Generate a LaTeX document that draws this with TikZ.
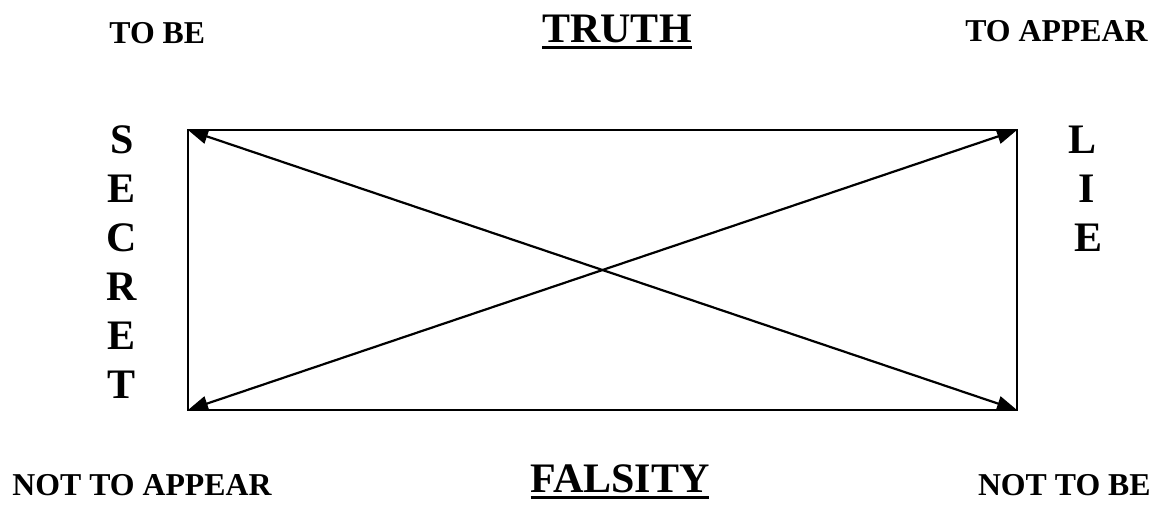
\documentclass[tikz,border=0pt]{standalone}
\usepackage{fontspec}
\setmainfont{Liberation Serif}
\usetikzlibrary{arrows.meta}
\newcommand{\thickul}[1]{\leavevmode\vtop{\hbox{#1}\kern2pt\hrule height 1.5pt}}

\begin{document}
\begin{tikzpicture}[
      x=0.5pt, y=-0.5pt, % one unit per pixel of the sheet
      >={Triangle[length=10pt,width=7.5pt]},
      frame/.style={line width=1.1pt, black},
      diag/.style={<->, line width=1.1pt, black},
      corner/.style={font=\bfseries\fontsize{15.9}{18}\selectfont, inner sep=0pt},
      title/.style={font=\bfseries\fontsize{21}{24}\selectfont, inner sep=0pt, anchor=base},
      letter/.style={font=\bfseries\fontsize{21}{24}\selectfont, inner sep=0pt, anchor=base},
    ]
    \useasboundingbox (0,0) rectangle (1155,504);

    % ---- corners of the square ------------------------------------------
    \coordinate (tl) at (188,130);
    \coordinate (tr) at (1017,130);
    \coordinate (bl) at (188,410);
    \coordinate (br) at (1017,410);

    % ---- frame and diagonals --------------------------------------------
    \draw[frame] (tl) -- (tr) -- (br) -- (bl) -- cycle;
    \draw[diag] (tl) -- (br);
    \draw[diag] (bl) -- (tr);

    % ---- top and bottom -------------------------------------------------
    \node[corner, anchor=base west] (tobe) at (109,43) {TO BE};
    \node[title] (truth) at (617,42) {\thickul{TRUTH}};
    \node[corner, anchor=base east] (toappear) at (1148,41) {TO APPEAR};
    \node[corner, anchor=base west] (nottoappear) at (12,495) {NOT TO APPEAR};
    \node[title] (falsity) at (620,492) {\thickul{FALSITY}};
    \node[corner, anchor=base east] (nottobe) at (1151,495) {NOT TO BE};

    % ---- sides, one letter a line ----------------------------------------
    \foreach \l [count=\i] in {S,E,C,R,E,T}
      \node[letter] (secret-\i) at (122,153+49*\i-49) {\l};
    \foreach \l/\x [count=\i] in {L/1082,I/1087,E/1088}
      \node[letter] (lie-\i) at (\x,153+49*\i-49) {\l};
  \end{tikzpicture}
\end{document}
